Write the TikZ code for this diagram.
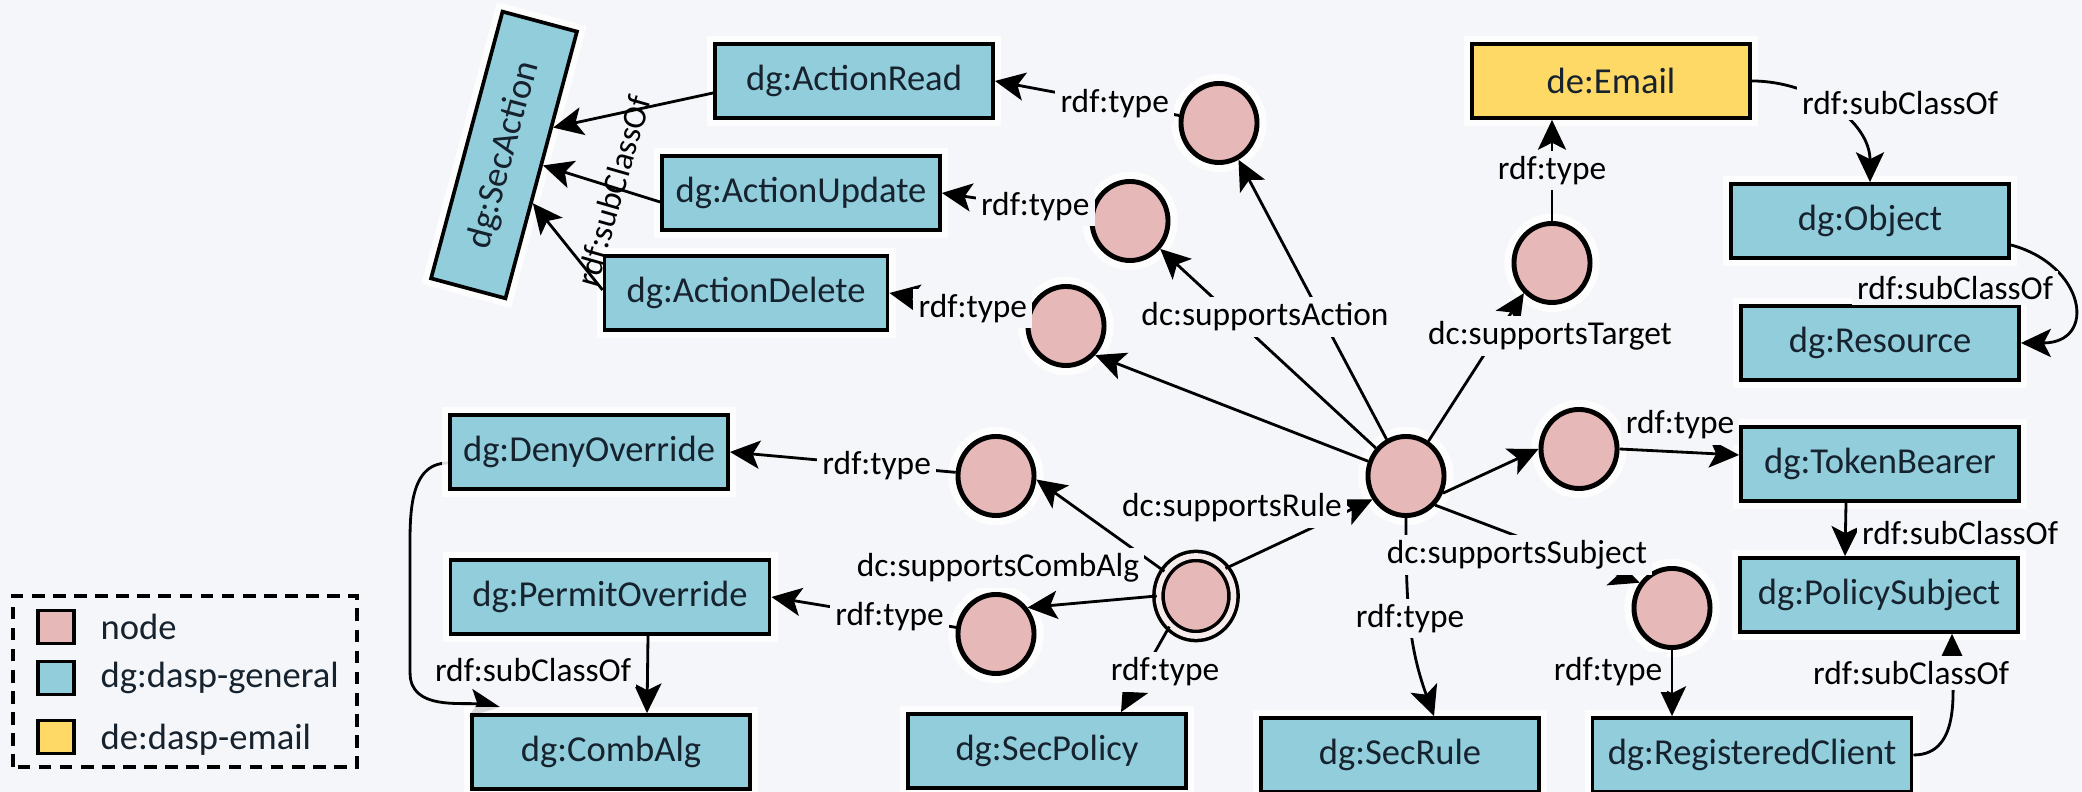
\documentclass[tikz,border=0pt]{standalone}
\usepackage{fontspec}
\setmainfont{Carlito}
\usetikzlibrary{shapes.geometric,arrows.meta,calc}
\definecolor{bg}{HTML}{F4F6F9}
\definecolor{boxblue}{HTML}{92CDDC}
\definecolor{nodepink}{HTML}{E6B8B7}
\definecolor{emailgold}{HTML}{FFD966}
\definecolor{inktext}{HTML}{16222E}
\definecolor{ringwhite}{HTML}{F7ECEC}
\pgfdeclarelayer{back}
\pgfsetlayers{back,main}
\begin{document}
\begin{tikzpicture}[x=0.01cm, y=0.01cm,
  cls/.style={rectangle, draw=black, line width=1.05pt, fill=boxblue, text=inktext,
    minimum width=2.78cm, minimum height=0.74cm, inner sep=0pt,
    font=\fontsize{10.4}{12}\selectfont,
    preaction={draw=white, line width=4.5pt, draw opacity=0.85}},
  wide/.style={minimum width=3.19cm},
  resbase/.style={ellipse, draw=black, fill=nodepink, inner sep=0pt},
  res/.style={resbase, line width=1.4pt, minimum width=0.76cm, minimum height=0.79cm,
    preaction={draw=white, line width=5.5pt, draw opacity=0.85}},
  rel/.style={draw=black, line width=0.8pt, -{Stealth[length=8.5pt, width=8pt, inset=2pt]}},
  lbl/.style={font=\fontsize{9.5}{11}\selectfont, text=black, fill=bg, inner sep=1.5pt},
  key/.style={draw=black, line width=1pt, minimum width=0.36cm, minimum height=0.33cm, inner sep=0pt},
  legtext/.style={anchor=west, inner sep=0pt, text=inktext, font=\fontsize{10.4}{12}\selectfont}
]
\begin{pgfonlayer}{back}
  \fill[bg] (0,0) rectangle (2082,792);
\end{pgfonlayer}
\useasboundingbox (0,0) rectangle (2082,792);

% ---- classes ----
\node[cls, rotate=75, minimum width=2.76cm, minimum height=0.77cm] (secaction) at (504,637) {dg:SecAction};
\node[cls] (actread) at (854,711) {dg:ActionRead};
\node[cls] (actupd) at (801,599) {dg:ActionUpdate};
\node[cls, minimum width=2.83cm] (actdel) at (746,499) {dg:ActionDelete};
\node[cls, fill=emailgold] (email) at (1611,711) {de:Email};
\node[cls] (object) at (1870,571) {dg:Object};
\node[cls] (resource) at (1880,449) {dg:Resource};
\node[cls] (tokenbearer) at (1880,328) {dg:TokenBearer};
\node[cls] (policysubj) at (1879,197) {dg:PolicySubject};
\node[cls, wide] (regclient) at (1752,37) {dg:RegisteredClient};
\node[cls] (secrule) at (1400,37) {dg:SecRule};
\node[cls] (secpolicy) at (1047,41) {dg:SecPolicy};
\node[cls] (combalg) at (611,40) {dg:CombAlg};
\node[cls, wide] (permitov) at (610,195) {dg:PermitOverride};
\node[cls] (denyov) at (589,340) {dg:DenyOverride};

% ---- resource nodes ----
\node[res] (c1) at (1219,669) {};
\node[res] (c2) at (1130,571) {};
\node[res] (c3) at (1066,466) {};
\node[res] (cemail) at (1552,529) {};
\node[res] (hub) at (1406,316) {};
\node[res] (ctoken) at (1579,343) {};
\node[res] (csubj) at (1672,184) {};
\node[res] (cdeny) at (996,316) {};
\node[res] (cpermit) at (996,158) {};
\node[resbase, line width=1pt, double=ringwhite, double distance=1.6pt,
      minimum width=0.75cm, minimum height=0.80cm] (policy) at (1196,196) {};

% ---- subclass edges toward dg:SecAction ----
\draw[rel] ($(actread.west)+(0,-12)$) -- ($(secaction.south)!0.28!(secaction.south east)$);
\draw[rel] ($(actupd.west)+(0,-9)$) -- (secaction.south);
\draw[rel] ($(actdel.west)+(0,3)$) -- ($(secaction.south)!0.28!(secaction.south west)$);

% ---- types of the action resources ----
\draw[rel] (c1) -- node[lbl, pos=0.35] (l1) {rdf:type} (actread.east);
\draw[rel] (c2) -- node[lbl, pos=0.37] (l2) {rdf:type} (actupd.east);
\draw[rel] (c3) -- node[lbl, pos=0.39] (l3) {rdf:type} (actdel.east);

% ---- edges leaving the rule node ----
\draw[rel] (hub) -- (c1);
\draw[rel] (hub) -- (c2);
\draw[rel] (hub) -- (c3.-45);
\draw[rel] (hub) -- (cemail.227);
\draw[rel] (hub.-25) -- (ctoken.west);
\draw[rel] (hub.-45) -- (csubj.142);
\draw[rel] (hub.south) to[out=-90, in=110] node[lbl] (l6) {rdf:type} ($(secrule.north)+(34,0)$);

% ---- edges leaving the policy node ----
\draw[rel] (policy.43) -- (hub.215);
\draw[rel] (policy.142) -- (cdeny.-5);
\draw[rel] (policy.west) -- (cpermit.40);
\draw[rel] (policy.229) -- ($(secpolicy.north)+(74,0)$);

% ---- target and subject ----
\draw[rel] (cemail.north) -- node[lbl] (l7) {rdf:type} (cemail.north |- email.south);
\draw[rel] (ctoken.east) -- ($(tokenbearer.west)+(0,9)$);
\draw[rel] ($(tokenbearer.south)+(-34,0)$) -- ($(policysubj.north)+(-34,0)$);
\draw[rel] (csubj.south) -- (csubj.south |- regclient.north);
\draw[rel] (regclient.east) to[out=0, in=-90] ($(policysubj.south)+(73,0)$);
\draw[rel] (email.east) to[out=0, in=90] (object.north);
\draw[rel] ($(object.east)+(0,-24)$) to[out=-15, in=0, looseness=2] (resource.east);

% ---- combining algorithms ----
\draw[rel] (cdeny) -- node[lbl, pos=0.35] (l4) {rdf:type} (denyov.east);
\draw[rel] (cpermit) -- node[lbl, pos=0.36] (l5) {rdf:type} (permitov.east);
\draw[rel] ($(permitov.south)+(38,0)$) -- ($(combalg.north)+(36,0)$);
\begin{pgfonlayer}{back}
  % runs behind dg:CombAlg so that the box hides the lower part of the head
  \draw[rel] ($(denyov.west)+(0,-11)$) to[out=180, in=90] ($(combalg.north west)+(-60,150)$)
    -- ($(combalg.north west)+(-60,40)$) to[out=-90, in=172] ($(combalg.north west)+(30,6)$);
\end{pgfonlayer}

% ---- free-standing edge labels ----
\node[lbl, fill=none, rotate=74] (lsubact) at (613,601) {rdf:subClassOf};
\node[lbl] (lact) at (1265,475) {dc:supportsAction};
\node[lbl] (ltarget) at (1550,456) {dc:supportsTarget};
\node[lbl] (lemail) at (1900,689) {rdf:subClassOf};
\node[lbl] (lobject) at (1955,504) {rdf:subClassOf};
\node[lbl] (ltoken) at (1680,367) {rdf:type};
\node[lbl] (lbearer) at (1960,259) {rdf:subClassOf};
\node[lbl] (lrule) at (1232,284) {dc:supportsRule};
\node[lbl] (lcomb) at (998,224) {dc:supportsCombAlg};
\node[lbl] (lsubj) at (1517,237) {dc:supportsSubject};
\node[lbl] (lclient) at (1911,119) {rdf:subClassOf};
\node[lbl] (lpolicy) at (1165,120) {rdf:type};
\node[lbl] (lreg) at (1608,120) {rdf:type};
\node[lbl] (ldeny) at (533,122) {rdf:subClassOf};

% ---- legend ----
\draw[dash pattern=on 3.6pt off 2.4pt, line width=0.9pt] (13,25) rectangle (357,196);
\node[key, fill=nodepink] (kres) at (56,165) {};
\node[key, fill=boxblue] (kgen) at (56,114) {};
\node[key, fill=emailgold] (kemail) at (56,55) {};
\node[legtext] (tres) at (100,165) {node};
\node[legtext] (tgen) at (100,114) {dg:dasp-general};
\node[legtext] (temail) at (100,52) {de:dasp-email};
\end{tikzpicture}
\end{document}
